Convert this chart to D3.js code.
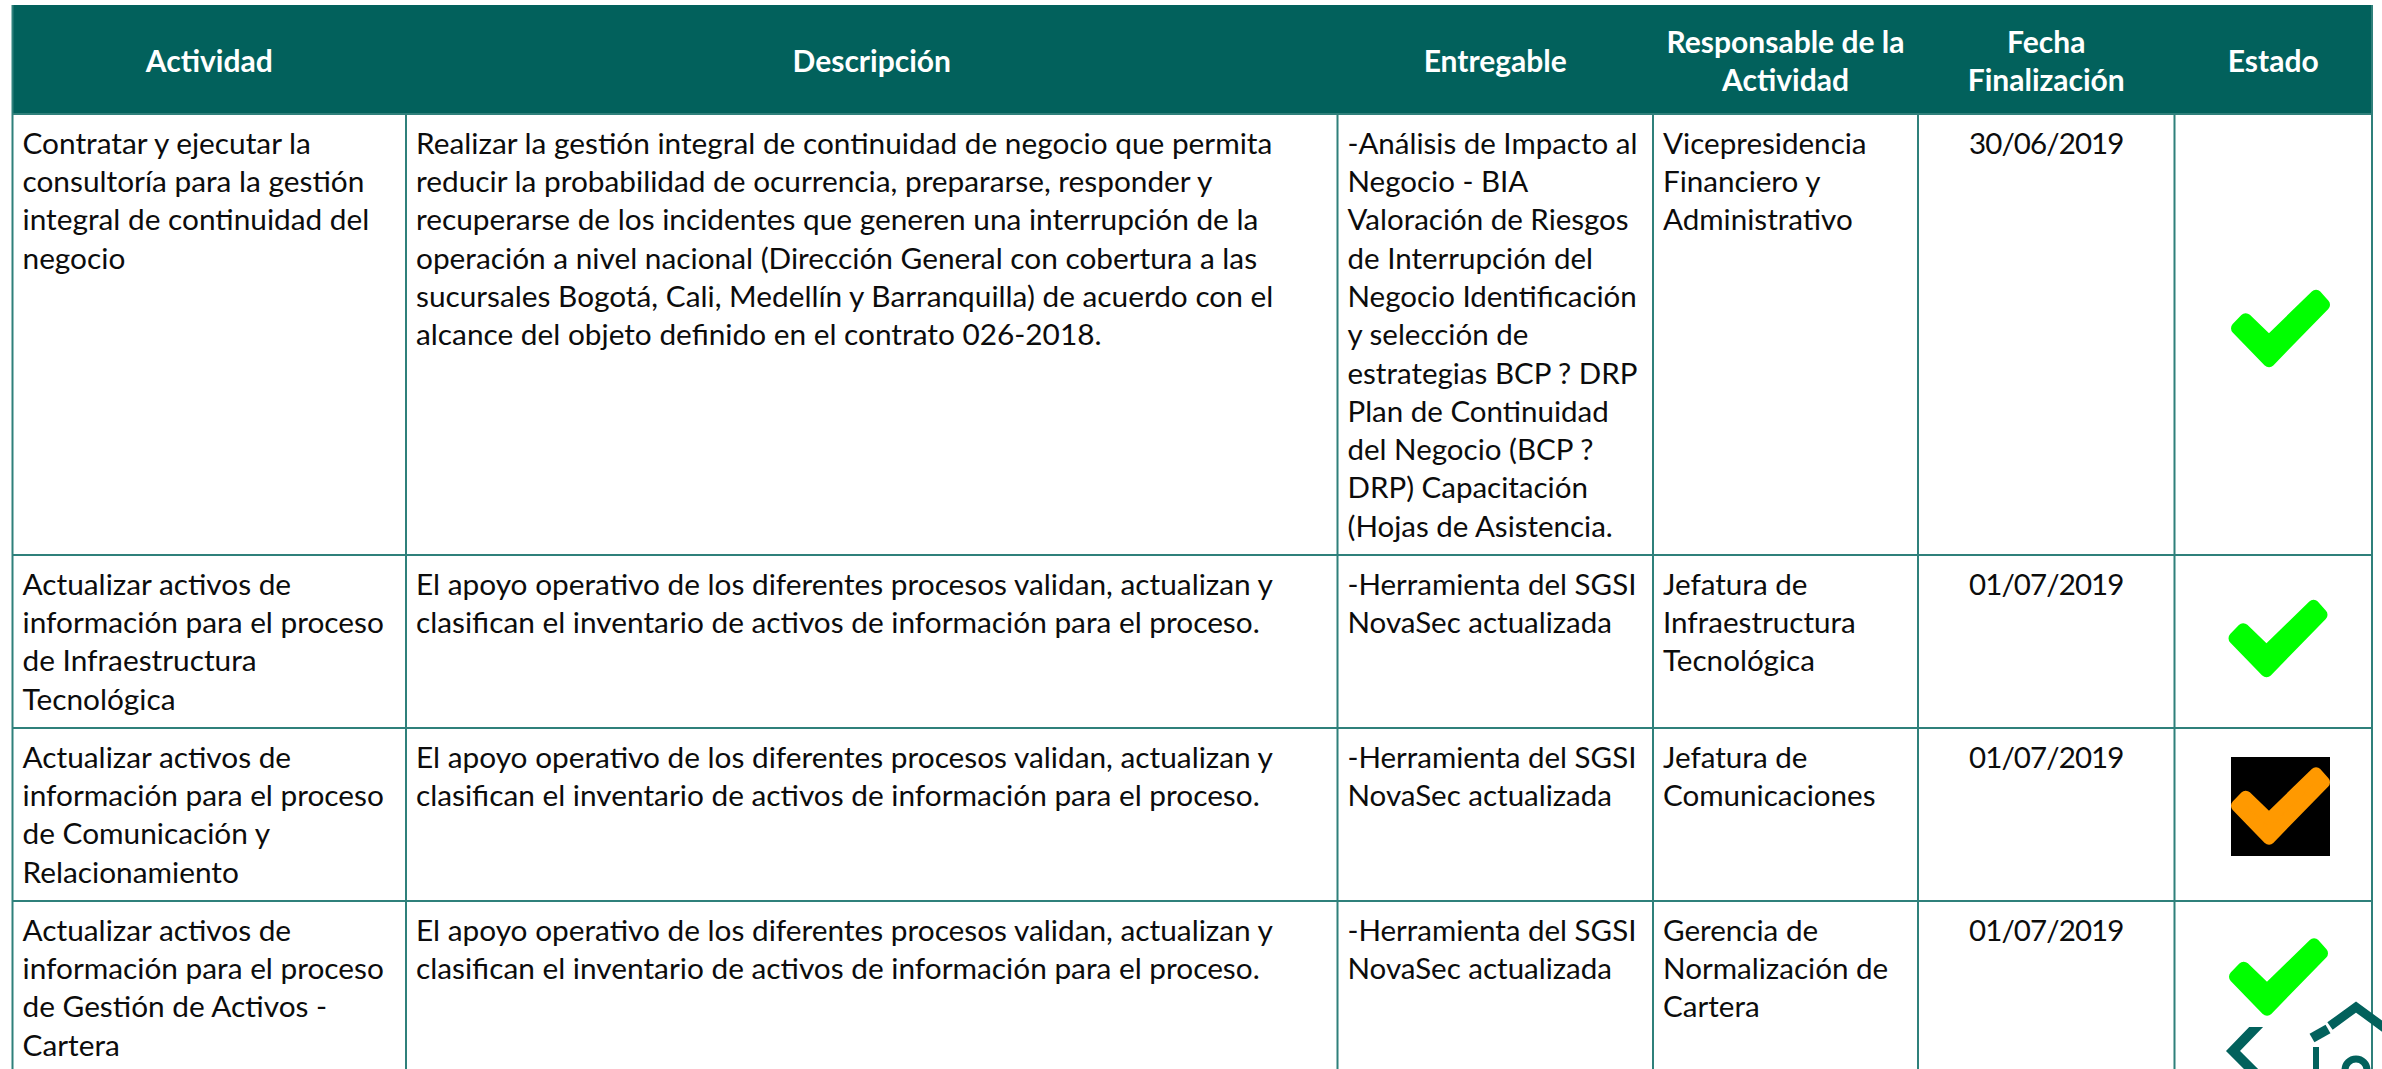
<!DOCTYPE html>
<html lang="es">
<head>
<meta charset="UTF-8">
<title>Actividades</title>
<script src="https://d3js.org/d3.v7.min.js"></script>
<style>
  html, body { margin: 0; padding: 0; background: #fff; overflow: hidden; }
  svg { display: block; }
</style>
</head>
<body>
<svg width="2382" height="1069"></svg>
<script>
// columnas y textos
const columns = ['Actividad', 'Descripción', 'Entregable', 'Responsable', 'Fecha', 'Estado'];
const headers = [['Actividad'], ['Descripción'], ['Entregable'], ['Responsable de la', 'Actividad'], ['Fecha', 'Finalización'], ['Estado']];
const rowIds = ['r1', 'r2', 'r3', 'r4'];

const actividad = [
  ['Contratar y ejecutar la', 'consultoría para la gestión', 'integral de continuidad del', 'negocio'],
  ['Actualizar activos de', 'información para el proceso', 'de Infraestructura', 'Tecnológica'],
  ['Actualizar activos de', 'información para el proceso', 'de Comunicación y', 'Relacionamiento'],
  ['Actualizar activos de', 'información para el proceso', 'de Gestión de Activos -', 'Cartera']
];
const apoyo = ['El apoyo operativo de los diferentes procesos validan, actualizan y', 'clasifican el inventario de activos de información para el proceso.'];
const descripcion = [
  ['Realizar la gestión integral de continuidad de negocio que permita',
   'reducir la probabilidad de ocurrencia, prepararse, responder y',
   'recuperarse de los incidentes que generen una interrupción de la',
   'operación a nivel nacional (Dirección General con cobertura a las',
   'sucursales Bogotá, Cali, Medellín y Barranquilla) de acuerdo con el',
   'alcance del objeto definido en el contrato 026-2018.'],
  apoyo, apoyo, apoyo
];
const novasec = ['-Herramienta del SGSI', 'NovaSec actualizada'];
const entregable = [
  ['-Análisis de Impacto al', 'Negocio - BIA', 'Valoración de Riesgos', 'de Interrupción del', 'Negocio Identificación',
   'y selección de', 'estrategias BCP ? DRP', 'Plan de Continuidad', 'del Negocio (BCP ?', 'DRP) Capacitación', '(Hojas de Asistencia.'],
  novasec, novasec, novasec
];
const responsable = [
  ['Vicepresidencia', 'Financiero y', 'Administrativo'],
  ['Jefatura de', 'Infraestructura', 'Tecnológica'],
  ['Jefatura de', 'Comunicaciones'],
  ['Gerencia de', 'Normalización de', 'Cartera']
];
const fechas = ['30/06/2019', '01/07/2019', '01/07/2019', '01/07/2019'];
const estado = ['ok', 'ok', 'warn', 'ok'];

const TEAL = '#02615c', LINE = '#2f807b';
const FONT = 'Lato, sans-serif';
const HEAD_SIZE = 30, LEAD = 38.3;

const svg = d3.select('svg');

// bordes de las columnas y filas
const colEdges = [12.5, 406, 1337.5, 1653, 1918, 2174.5, 2372];
const rowEdges = [114, 555, 728, 901, 1069];
const xCol = d3.scaleOrdinal().domain(columns).range(colEdges);
const xEnd = d3.scaleOrdinal().domain(columns).range(colEdges.slice(1));
const yRow = d3.scaleOrdinal().domain(rowIds).range(rowEdges);

svg.append('rect').attr('x', 12).attr('y', 5).attr('width', 2361).attr('height', 109).attr('fill', TEAL);

// cabecera
const head = svg.selectAll('.head').data(columns).enter().append('text')
  .attr('class', 'head')
  .attr('text-anchor', 'middle')
  .attr('font-family', FONT).attr('font-weight', 700).attr('font-size', HEAD_SIZE).attr('fill', '#fff');
head.each(function (c, i) {
  const lines = headers[i];
  const cx = (xCol(c) + xEnd(c)) / 2;
  d3.select(this).selectAll('tspan').data(lines).enter().append('tspan')
    .attr('x', cx)
    .attr('y', (d, k) => 72 + (k - (lines.length - 1) / 2) * LEAD)
    .text(d => d);
});

// lineas de la tabla
svg.selectAll('.vline').data(columns.concat(['fin'])).enter().append('line')
  .attr('class', 'vline')
  .attr('x1', (c, i) => colEdges[i]).attr('x2', (c, i) => colEdges[i])
  .attr('y1', (c, i) => i === 0 || i === 6 ? 5 : 114).attr('y2', 1069)
  .attr('stroke', LINE).attr('stroke-width', 2);
svg.selectAll('.hline').data(rowIds).enter().append('line')
  .attr('class', 'hline')
  .attr('x1', 12).attr('x2', 2373)
  .attr('y1', r => yRow(r)).attr('y2', r => yRow(r))
  .attr('stroke', LINE).attr('stroke-width', 2);

// celdas de texto
function cellText(col, rows, size, anchor, spacing) {
  rows.forEach((lines, i) => {
    const t = svg.append('text').attr('font-family', FONT).attr('font-size', size).attr('fill', '#0c0c0c')
      .attr('letter-spacing', spacing || 0)
      .attr('text-anchor', anchor || 'start');
    const x = anchor === 'middle' ? (xCol(col) + xEnd(col)) / 2 : xCol(col) + 10;
    t.selectAll('tspan').data(lines).enter().append('tspan')
      .attr('x', x)
      .attr('y', (d, k) => yRow(rowIds[i]) + 39.7 + k * LEAD)
      .text(d => d);
  });
}
cellText('Actividad', actividad, 29.8);
cellText('Descripción', descripcion, 29.8);
cellText('Entregable', entregable, 29.5);
cellText('Responsable', responsable, 29.6);
cellText('Fecha', fechas.map(d => [d]), 29.5, 'middle', -0.9);

// marcas de estado
const checkPath = 'M-43.5,-0.3 L-34.8,-9.3 L-11.5,13 L35.5,-32.7 L43.5,-23.7 L-11.5,32.7 Z';
const checkY = d3.scaleOrdinal().domain(rowIds).range([328.5, 638.5, 806, 977]);
const checkX = d3.scaleOrdinal().domain(rowIds).range([2280.5, 2278, 2280.5, 2278.5]);
const stateColor = d3.scaleOrdinal().domain(['ok', 'warn']).range(['#00ff00', '#ff9900']);
const marks = svg.selectAll('.mark').data(rowIds).enter().append('g')
  .attr('class', 'mark')
  .attr('transform', r => `translate(${checkX(r)},${checkY(r)})`);
marks.filter((r, i) => estado[i] === 'warn').append('rect')
  .attr('x', -49.5).attr('y', -49).attr('width', 99).attr('height', 99).attr('fill', '#000');
marks.append('path').attr('d', checkPath)
  .attr('fill', (r, i) => stateColor(estado[i]))
  .attr('stroke', (r, i) => stateColor(estado[i])).attr('stroke-width', 12).attr('stroke-linejoin', 'round');

// iconos de navegacion (esquina inferior derecha)
svg.append('clipPath').attr('id', 'corte').append('rect')
  .attr('x', 2200).attr('y', 1027).attr('width', 100).attr('height', 42);
svg.append('path').attr('d', 'M2260,1023 L2233,1051 L2261,1079')
  .attr('fill', 'none').attr('stroke', TEAL).attr('stroke-width', 10)
  .attr('clip-path', 'url(#corte)');
svg.append('path').attr('d', 'M2330,1026 L2356,1007 L2390,1032')
  .attr('fill', 'none').attr('stroke', TEAL).attr('stroke-width', 9);
svg.append('path').attr('d', 'M2312,1038 L2328,1029')
  .attr('fill', 'none').attr('stroke', TEAL).attr('stroke-width', 10);
svg.append('line').attr('x1', 2316).attr('x2', 2316).attr('y1', 1047).attr('y2', 1069)
  .attr('stroke', TEAL).attr('stroke-width', 6);
svg.append('circle').attr('cx', 2356).attr('cy', 1070).attr('r', 11)
  .attr('fill', 'none').attr('stroke', TEAL).attr('stroke-width', 7);
</script>
</body>
</html>
